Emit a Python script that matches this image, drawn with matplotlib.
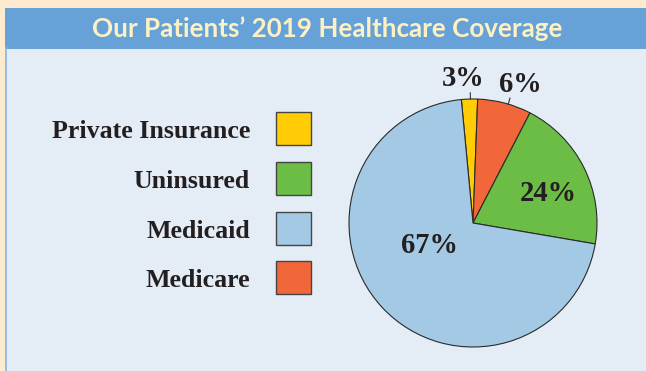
import matplotlib
matplotlib.use("Agg")
import matplotlib.pyplot as plt
from matplotlib.patches import Rectangle
import numpy as np

# ---- data ----
categories = ["Private Insurance", "Uninsured", "Medicaid", "Medicare"]
# wedge shares as drawn (clockwise from the top): Private, Medicare, Uninsured, Medicaid
pie_order = ["Private Insurance", "Medicare", "Uninsured", "Medicaid"]
pie_shares = [2.1, 7.0, 20.1, 70.8]
pie_labels = ["3%", "6%", "24%", "67%"]
title = "Our Patients\u2019 2019 Healthcare Coverage"

colors = {
    "Private Insurance": "#ffcc05",
    "Uninsured": "#6cbd45",
    "Medicaid": "#a3c9e5",
    "Medicare": "#f26739",
}

W, H = 646, 371
DPI = 100
fig = plt.figure(figsize=(W / DPI, H / DPI), dpi=DPI)
fig.patch.set_facecolor("#fdebcf")

bg = fig.add_axes([0, 0, 1, 1])
bg.set_xlim(0, W)
bg.set_ylim(H, 0)
bg.axis("off")

# panel + title bar
bg.add_patch(Rectangle((5, 48), W - 5, H - 48, facecolor="#e4ecf6", edgecolor="none"))
bg.plot([5.5, 5.5], [48, H], color="#8db3df", lw=1.2)
bg.add_patch(Rectangle((5, 8), W - 5, 41, facecolor="#66a2d8", edgecolor="none"))

serif = "Liberation Serif"
txt_color = "#231f20"

fig.canvas.draw()
renderer = fig.canvas.get_renderer()

def fit_size(t, target_w):
    bb = t.get_window_extent(renderer)
    return t.get_fontsize() * target_w / bb.width

t = bg.text(327, 29, title, ha="center", va="center", color="#fdf1c3",
            fontsize=18, fontweight="bold", family="Lato")
t.set_fontsize(fit_size(t, 471))

# legend
row_y = [128, 178, 228, 277]
fs_leg = None
for i, (cat, y) in enumerate(zip(categories, row_y)):
    tt = bg.text(250, y + 1, cat, ha="right", va="center_baseline", color=txt_color,
                 fontsize=19, fontweight="bold", family=serif)
    if i == 0:
        fs_leg = fit_size(tt, 198)
    tt.set_fontsize(fs_leg)
    bg.add_patch(Rectangle((276, y - 16.5), 35, 33, facecolor=colors[cat],
                           edgecolor="#444444", lw=1.0))

# pie
cx, cy, r = 473, 223, 124
pax = fig.add_axes([(cx - r) / W, (H - cy - r) / H, 2 * r / W, 2 * r / H])
pax.set_xlim(-1, 1)
pax.set_ylim(-1, 1)
pax.axis("off")
wedges, _ = pax.pie(pie_shares, colors=[colors[c] for c in pie_order],
                    startangle=95.4, counterclock=False, radius=1,
                    wedgeprops=dict(edgecolor="#2a2a2a", linewidth=0.8))
pax.set_xlim(-1, 1)
pax.set_ylim(-1, 1)

label_pos = [(-0.08, 1.165), (0.38, 1.12), (0.61, 0.235), (-0.35, -0.18)]
for lab, (x, y) in zip(pie_labels, label_pos):
    pax.text(x, y, lab, ha="center", va="center", fontsize=fs_leg * 1.1,
             fontweight="bold", family=serif, color=txt_color, clip_on=False)

# leader lines for outer labels
for ang in (91.2, 73.5):
    a = np.deg2rad(ang)
    pax.plot([np.cos(a) * 1.0, np.cos(a) * 1.05], [np.sin(a) * 1.0, np.sin(a) * 1.05],
             color="#333333", lw=0.8, clip_on=False)

fig.savefig("out.png", dpi=DPI, facecolor=fig.get_facecolor())
